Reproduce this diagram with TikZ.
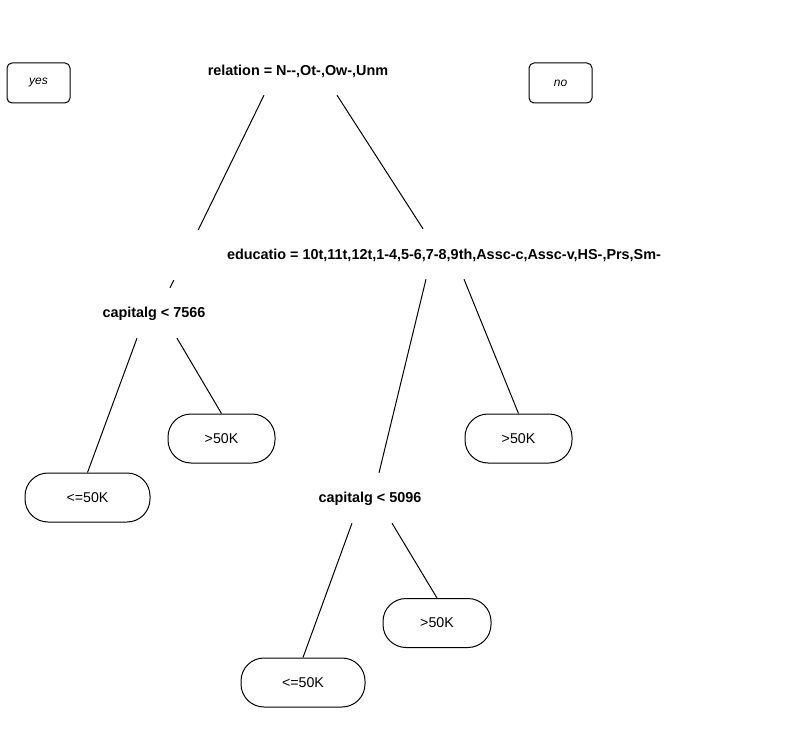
\documentclass[tikz,border=0pt]{standalone}
\usepackage{fontspec}
\setmainfont{Liberation Sans}
\tikzset{
  split/.style={font=\bfseries\fontsize{14.4}{16}\selectfont, inner sep=0pt, minimum height=50pt},
  leaf/.style={draw, line width=1pt, rounded corners=23pt, minimum height=49pt, inner sep=0pt, font=\fontsize{14.2}{16}\selectfont},
  legend/.style={draw, line width=1pt, rounded corners=5pt, minimum width=63pt, minimum height=40pt, inner sep=0pt, font=\itshape\fontsize{12}{14}\selectfont},
  branch/.style={line width=1pt}
}
\begin{document}
\begin{tikzpicture}[x=1pt,y=-1pt]
\useasboundingbox (0,0) rectangle (800,751);

% Legend boxes
\node[legend] (yes) at (38.5,83) {yes};
\node[legend] (no) at (560.5,83) {no};

% Splits
\node[split] (root) at (298,71) {relation = N{-}{-},Ot-,Ow-,Unm};
\node[split] (capA) at (154,314) {capitalg < 7566};
\node[split] (capB) at (370,499) {capitalg < 5096};

% Leaves
\node[leaf, minimum width=125pt] (lowA) at (87.5,497.5) {<=50K};
\node[leaf, minimum width=107pt] (highA) at (221.5,438.5) {>50K};
\node[leaf, minimum width=107pt] (highB) at (518.5,438.5) {>50K};
\node[leaf, minimum width=124pt] (lowB) at (303,682.5) {<=50K};
\node[leaf, minimum width=108pt] (highC) at (437,623) {>50K};

% Left branch of the root runs behind the next label
\draw[branch] ([xshift=-34pt,yshift=1pt]root.south) -- ([xshift=16pt,yshift=1pt]capA.north);
\node[split, fill=white, minimum width=545pt] (educ) at (444,255)
  {educatio = 10t,11t,12t,1-4,5-6,7-8,9th,Assc-c,Assc-v,HS-,Prs,Sm-};

% Branches
\draw[branch] ([xshift=39pt,yshift=1pt]root.south) -- ([xshift=-21pt,yshift=1pt]educ.north);
\draw[branch] ([xshift=-17pt,yshift=1pt]capA.south) -- (lowA.north);
\draw[branch] ([xshift=23pt,yshift=1pt]capA.south) -- (highA.north);
\draw[branch] ([xshift=-18pt,yshift=1pt]educ.south) -- ([xshift=9pt,yshift=1pt]capB.north);
\draw[branch] ([xshift=20pt,yshift=1pt]educ.south) -- (highB.north);
\draw[branch] ([xshift=-18pt,yshift=1pt]capB.south) -- (lowB.north);
\draw[branch] ([xshift=22pt,yshift=1pt]capB.south) -- (highC.north);
\end{tikzpicture}
\end{document}
